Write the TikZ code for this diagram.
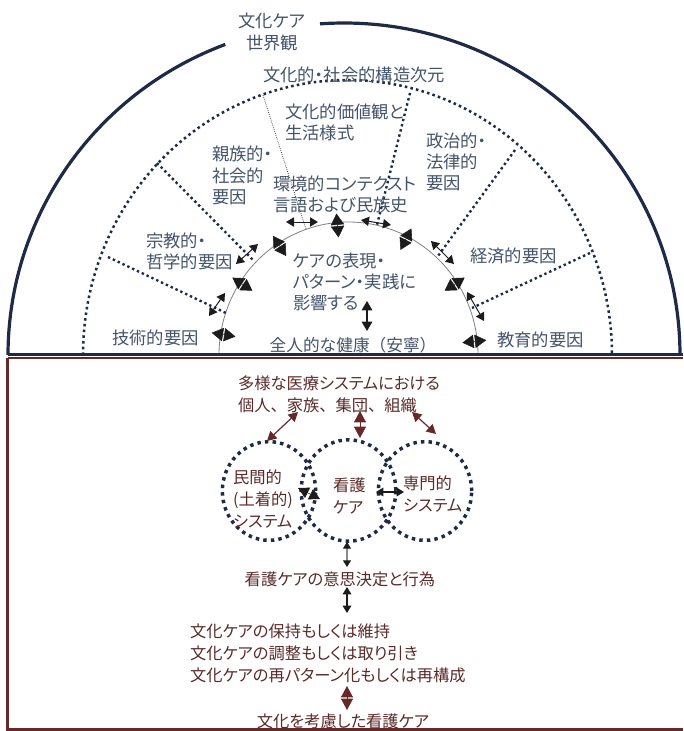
\documentclass[tikz,border=0pt]{standalone}
\usepackage{fontspec}
\newfontfamily\jp[RawFeature=+palt]{Noto Sans CJK JP}
\newfontfamily\jpf{Noto Sans CJK JP}
\usetikzlibrary{arrows.meta,calc}
\definecolor{navy}{HTML}{1E2A46}
\definecolor{slate}{HTML}{44546A}
\definecolor{mtext}{HTML}{5A2A2A}
\definecolor{mline}{HTML}{66292A}
\definecolor{ink}{HTML}{1C1C1C}
\definecolor{arcgray}{HTML}{808080}
\begin{document}
\begin{tikzpicture}[x=0.75pt,y=-0.75pt,
  every node/.style={inner sep=0pt, outer sep=0pt},
  tl/.style={font=\jp\fontsize{13}{16}\selectfont, text=slate, align=left, anchor=west},
  tc/.style={font=\jp\fontsize{13}{16}\selectfont, text=slate, align=center},
  ml/.style={font=\jp\fontsize{12.2}{16.5}\selectfont, text=mtext, align=left, anchor=west},
  mc/.style={font=\jp\fontsize{12.2}{16.5}\selectfont, text=mtext, align=center},
  outerline/.style={draw=navy, line width=2.4pt},
  ringdots/.style={draw=navy, line width=1.9pt, dash pattern=on 1.9pt off 2.4pt},
  spoke/.style={draw=navy, line width=1.8pt, dash pattern=on 1.8pt off 2.2pt},
  finespoke/.style={draw=black!75, line width=0.6pt, dash pattern=on 0.6pt off 0.9pt},
  innerarc/.style={draw=arcgray, line width=0.6pt},
  cdots/.style={draw=navy, line width=2.6pt, dash pattern=on 2.6pt off 3.1pt},
  diam/.style={draw=ink, line width=0.4pt, arrows={Triangle[length=8.5pt,width=10pt]-Triangle[length=8.5pt,width=10pt]}},
  tarr/.style={draw=ink, line width=0.75pt, arrows={Triangle[length=6pt,width=7pt]-Triangle[length=6pt,width=7pt]}},
  varr/.style={draw=ink, line width=0.8pt, arrows={Triangle[length=7pt,width=8pt]-Triangle[length=7pt,width=8pt]}},
  bdiam/.style={draw=ink, line width=0.4pt, arrows={Triangle[length=8pt,width=8.5pt]-Triangle[length=8pt,width=8.5pt]}},
  barr/.style={draw=ink, line width=0.8pt, arrows={Triangle[length=5.5pt,width=6.5pt]-Triangle[length=5.5pt,width=6.5pt]}},
  garr/.style={draw=black!45, line width=0.9pt, arrows={Triangle[length=5pt,width=6pt,color=ink]-Triangle[length=5pt,width=6pt,color=ink]}},
  marr/.style={draw=mline, line width=0.9pt, arrows={Triangle[length=7pt,width=7.5pt]-Triangle[length=7pt,width=7.5pt]}},
  mbig/.style={draw=mline, line width=0.6pt, arrows={Triangle[length=8.5pt,width=9pt]-Triangle[length=8.5pt,width=9pt]}}
]
\useasboundingbox (0,0) rectangle (683,731);

% outer world-view arc (gap for the title)
\draw[outerline] plot[smooth, samples=50, domain=180:110.7] ({344+336*cos(\x)},{355-332*sin(\x)});
\draw[outerline] plot[smooth, samples=80, domain=94.1:0] ({344+336*cos(\x)},{355-332*sin(\x)});

% cultural & social structure ring
\draw[ringdots] plot[smooth, samples=100, domain=180:0] ({347.5+264.5*cos(\x)},{355-275*sin(\x)});

% inner arc
\draw[innerarc] plot[smooth, samples=90, domain=180:0] ({348.5+129.5*cos(\x)},{355-133*sin(\x)});

% spokes
\coordinate (s1a) at (108,257); \coordinate (s1b) at (226,313);
\coordinate (s2a) at (157,163); \coordinate (s2b) at (254,261);
\coordinate (s3a) at (263,95);  \coordinate (s3b) at (306,229);
\coordinate (s4a) at (410,93);  \coordinate (s4b) at (377,225);
\coordinate (s5a) at (515,150); \coordinate (s5b) at (438,256);
\coordinate (s6a) at (590,253); \coordinate (s6b) at (472,308);
\draw[spoke] (s1a) -- (s1b);
\draw[spoke] (s2a) -- (s2b);
\draw[finespoke] (s3a) -- (s3b);
\draw[spoke] (s4a) -- (s4b);
\draw[spoke] (s5a) -- (s5b);
\draw[spoke] (s6a) -- (s6b);

% tangential arrows at spoke ends
\coordinate (t1a) at (209,316); \coordinate (t1b) at (225,293);
\coordinate (t2a) at (236,264); \coordinate (t2b) at (258,244);
\coordinate (t3a) at (286,222); \coordinate (t3b) at (318,222);
\coordinate (t4a) at (361,220); \coordinate (t4b) at (391,225);
\coordinate (t5a) at (431,241); \coordinate (t5b) at (454,264);
\coordinate (t6a) at (467,292); \coordinate (t6b) at (484,321);
\foreach \i in {1,...,6} {\draw[tarr] (t\i a) -- (t\i b);}

% diamonds on the inner arc
\foreach \t [count=\i] in {171,147,123,95,63,33,6} {
  \coordinate (da\i) at ({348.5+114.5*cos(\t)},{355-118*sin(\t)});
  \coordinate (db\i) at ({348.5+138.5*cos(\t)},{355-142*sin(\t)});
  \draw[diam] (da\i) -- (db\i);
}

% vertical arrow to holistic health
\coordinate (h1) at (367,301); \coordinate (h2) at (367,331);
\draw[varr] (h1) -- (h2);

% dividing line
\draw[draw=navy, line width=2pt] (8,354.7) -- (683,354.7);

% top texts
\node[tc] (title) at (272,32) {文化ケア\\世界観};
\node[tc] (dim) at (354,75) {文化的・社会的構造次元};
\node[tl] (val) at (285,122.5) {文化的価値観と\\生活様式};
\node[tl] (kin) at (212,175.5) {親族的・\\社会的\\要因};
\node[tl] (rel) at (146,251.5) {宗教的・\\哲学的要因};
\node[tl] (tech) at (112,338) {技術的要因};
\node[tl] (env) at (273,194.5) {環境的コンテクスト\\言語および民族史};
\node[tl] (pol) at (426,162) {政治的・\\法律的\\要因};
\node[tl] (eco) at (470,256) {経済的要因};
\node[tl] (edu) at (497,340) {教育的要因};
\node[tl] (care) at (293,282) {ケアの表現・\\パターン・実践に\\影響する};
\node[tc, font=\jpf\fontsize{12.5}{16}\selectfont] (health) at (353,345) {全人的な健康（安寧）};

% lower half
\node[ml] (who) at (238,394) {多様な医療システムにおける\\{\jpf 個人、家族、集団、組織}};

\draw[cdots] (269,491) circle[x radius=35pt, y radius=37pt];
\draw[cdots] (348.5,490.5) circle[x radius=35.5pt, y radius=38pt];
\draw[cdots] (425,491) circle[x radius=35pt, y radius=37pt];

\node[ml] (folk) at (233,499) {民間的\\(土着的)\\システム};
\node[ml] (nurse) at (333,496) {看護\\ケア};
\node[ml] (prof) at (403,494) {専門的\\システム};

\coordinate (m1a) at (298,412); \coordinate (m1b) at (267,441);
\coordinate (m2a) at (360,411); \coordinate (m2b) at (360,438);
\coordinate (m3a) at (412,412); \coordinate (m3b) at (436,434);
\draw[marr] (m1a) -- (m1b);
\draw[mbig] (m2a) -- (m2b);
\draw[marr] (m3a) -- (m3b);

\coordinate (c1a) at (298,488); \coordinate (c1b) at (320,499);
\draw[bdiam] (c1a) -- (c1b);
\coordinate (c2a) at (376,492); \coordinate (c2b) at (404,492);
\draw[barr] (c2a) -- (c2b);

\coordinate (d1a) at (347,542); \coordinate (d1b) at (347,567);
\draw[garr] (d1a) -- (d1b);
\node[mc] (dec) at (340,579.5) {看護ケアの意思決定と行為};
\coordinate (d2a) at (347,587); \coordinate (d2b) at (347,613);
\draw[barr] (d2a) -- (d2b);

\node[ml] (modes) at (190,653) {文化ケアの保持もしくは維持\\文化ケアの調整もしくは取り引き\\文化ケアの再パターン化もしくは再構成};
\coordinate (e1a) at (347,686); \coordinate (e1b) at (347,710);
\draw[mbig] (e1a) -- (e1b);
\node[mc] (ccc) at (343,721.5) {文化を考慮した看護ケア};

% maroon frame of the lower half
\draw[draw=mline, line width=1.6pt] (683,358.3) -- (7.7,358.3);
\draw[draw=mline, line width=2.2pt] (7.7,358.3) -- (7.7,729.6) -- (683,729.6);
\end{tikzpicture}
\end{document}
